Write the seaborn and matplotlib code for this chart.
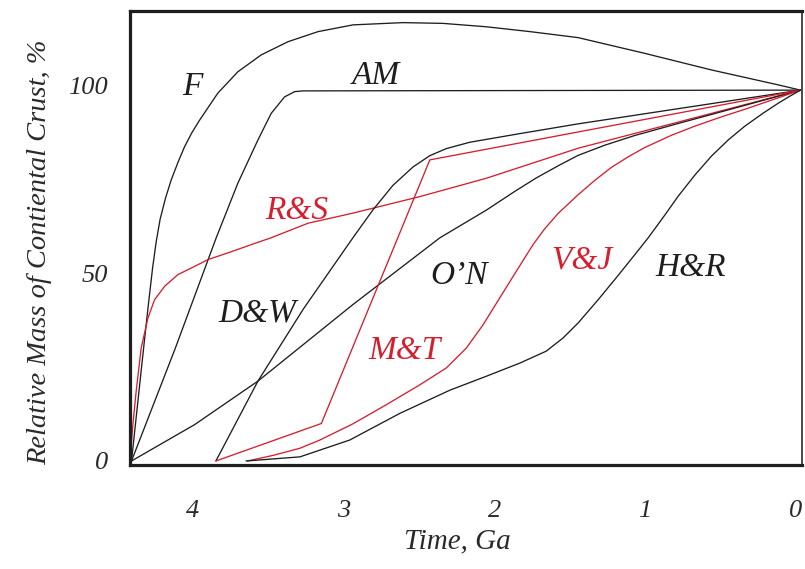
import matplotlib
matplotlib.use("Agg")
import matplotlib.pyplot as plt
from matplotlib.transforms import ScaledTranslation
import numpy as np
import pandas as pd
import seaborn as sns

# Crustal growth models: time before present (Ga) vs relative mass of continental crust (%)
f_time = [4.44, 4.40, 4.36, 4.33, 4.30, 4.276, 4.25, 4.215, 4.177, 4.13, 4.088, 4.04, 3.988,
          3.867, 3.734, 3.579, 3.402, 3.202, 2.970, 2.639, 2.373, 2.087, 1.795, 1.476,
          1.033, 0.593, 0.148, 0.0]
f_mass = [0.0, 15.0, 30.0, 41.0, 51.5, 58.5, 64.5, 70.0, 74.9, 79.8, 83.8, 87.5, 90.9,
          98.1, 103.8, 108.3, 111.8, 114.5, 116.3, 116.9, 116.7, 115.8, 114.5, 112.9,
          108.7, 104.3, 100.3, 98.9]

am_time = [4.44, 4.15, 3.878, 3.734, 3.601, 3.513, 3.424, 3.357, 3.30, 3.224, 0.0]
am_mass = [0.0, 30.0, 59.5, 74.1, 85.6, 92.7, 97.1, 98.5, 98.7, 98.7, 98.9]

rs_time = [4.45, 4.431, 4.409, 4.376, 4.331, 4.287, 4.220, 4.132, 4.021, 3.933, 3.800,
           3.645, 3.515, 3.269, 2.970, 2.527, 2.085, 1.476, 0.0]
rs_mass = [0.0, 9.7, 18.6, 30.1, 38.1, 43.0, 46.6, 49.7, 51.9, 53.7, 55.5,
           57.7, 59.5, 63.4, 66.1, 70.5, 75.4, 83.4, 98.9]

dw_time = [3.88, 3.601, 3.30, 2.971, 2.837, 2.705, 2.572, 2.461, 2.351, 2.195, 1.863, 1.476, 0.0]
dw_mass = [0.0, 21.3, 40.5, 59.5, 67.0, 73.5, 78.4, 81.4, 83.3, 85.0, 87.3, 89.9, 98.9]

on_time = [4.44, 4.021, 3.601, 2.971, 2.394, 2.085, 1.9, 1.753, 1.6, 1.476, 1.3, 1.1,
           0.812, 0.4, 0.0]
on_mass = [0.0, 9.7, 21.3, 41.7, 59.5, 66.9, 71.8, 75.5, 78.9, 81.5, 84.2, 86.8,
           90.0, 94.5, 98.9]

mt_time = [3.88, 3.18, 2.46, 0.0]
mt_mass = [0.0, 10.0, 80.3, 98.9]

vj_time = [3.67, 3.5, 3.322, 3.189, 2.971, 2.749, 2.527, 2.351, 2.218, 2.107, 1.996, 1.886,
           1.775, 1.70, 1.609, 1.476, 1.36, 1.255, 1.14, 1.033, 0.86, 0.701, 0.53, 0.369,
           0.18, 0.0]
vj_mass = [0.0, 1.5, 3.4, 5.6, 9.9, 15.0, 20.3, 24.8, 30.1, 36.3, 43.5, 50.6,
           57.7, 61.8, 66.0, 71.0, 75.0, 78.3, 81.2, 83.6, 86.8, 89.3, 91.7, 93.8,
           96.4, 98.9]

hr_time = [3.68, 3.322, 2.991, 2.659, 2.326, 2.085, 1.863, 1.687, 1.576, 1.476, 1.343,
           1.21, 1.1, 1.011, 0.9, 0.812, 0.7, 0.591, 0.48, 0.369, 0.25, 0.148, 0.07, 0.0]
hr_mass = [0.0, 1.1, 5.6, 12.7, 18.9, 22.6, 26.1, 29.3, 32.8, 36.8, 43.0,
           49.5, 55.0, 59.5, 65.6, 70.6, 76.3, 81.3, 85.6, 89.3, 92.7, 95.4, 97.3, 98.9]

models = ["F", "AM", "R&S", "D&W", "O\u2019N", "M&T", "V&J", "H&R"]
times = [f_time, am_time, rs_time, dw_time, on_time, mt_time, vj_time, hr_time]
masses = [f_mass, am_mass, rs_mass, dw_mass, on_mass, mt_mass, vj_mass, hr_mass]

BLACK = "#1e1e1e"
RED = "#d41f30"
colors = {"F": BLACK, "AM": BLACK, "R&S": RED, "D&W": BLACK, "O\u2019N": BLACK,
          "M&T": RED, "V&J": RED, "H&R": BLACK}

# label anchor points (Ga, %)
label_pos = {"F": (4.033, 99.7), "AM": (2.82, 102.6), "R&S": (3.342, 66.7),
             "D&W": (3.608, 39.5), "O\u2019N": (2.266, 49.5), "M&T": (2.625, 29.3),
             "V&J": (1.45, 53.6), "H&R": (0.729, 51.5)}

frames = []
for name, t, m in zip(models, times, masses):
    frames.append(pd.DataFrame({"model": name, "time": t, "mass": m}))
df = pd.concat(frames, ignore_index=True)

sns.set_theme(style="white")
plt.rcParams["font.family"] = ["Liberation Serif", "DejaVu Serif"]
plt.rcParams["font.style"] = "italic"

fig = plt.figure(figsize=(8.05, 5.69), dpi=100)
ax = fig.add_axes([130 / 805, 1 - 465 / 569, (802 - 130) / 805, (465 - 11) / 569])

sns.lineplot(data=df, x="time", y="mass", hue="model", units="model", estimator=None,
             sort=False, palette=colors, linewidth=0.95, legend=False, ax=ax)

ax.set_xlim(4.45, -0.01)
ax.set_ylim(-1.07, 120)

ax.set_xticks([4, 3, 2, 1, 0])
ax.set_xticklabels(["4", "3", "2", "1", "0"])
yt = list(range(0, 120, 10))
ax.set_yticks(yt)
ax.set_yticklabels([str(v) if v in (0, 50, 100) else "" for v in yt])

ax.tick_params(axis="both", direction="in", length=9.5, width=2.2, color=BLACK,
               labelsize=19, labelcolor="#2a2a2a")
ax.tick_params(axis="x", pad=25)
ax.tick_params(axis="y", pad=16)

# italic digits sit a little left of their ticks
shift = ScaledTranslation(-5 / 100, 0, fig.dpi_scale_trans)
for lab in ax.get_xticklabels():
    lab.set_transform(lab.get_transform() + shift)

for side in ("left", "bottom", "top"):
    ax.spines[side].set_linewidth(2.3)
    ax.spines[side].set_color(BLACK)
ax.spines["right"].set_linewidth(1.3)
ax.spines["right"].set_color("#3a3a3a")

ax.set_xlabel("Time, Ga", fontsize=21, color="#2a2a2a", labelpad=5)
ax.set_ylabel("Relative Mass of Contiental Crust, %", fontsize=20.5, color="#2a2a2a",
              labelpad=11.5)
ax.xaxis.label.set_x((457 - 130) / 672)
ax.yaxis.label.set_y((465 - 252) / 454)

for name, (x, y) in label_pos.items():
    ax.text(x, y, name, color=colors[name], fontsize=24, ha="center", va="center")

fig.savefig("out.png", dpi=100)
